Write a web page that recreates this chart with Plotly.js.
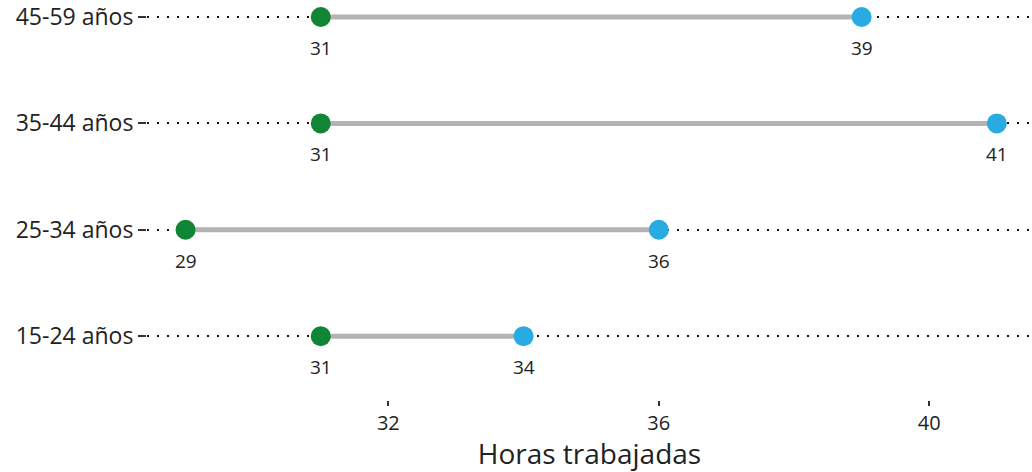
<!DOCTYPE html>
<html>
<head>
<meta charset="utf-8">
<script src="https://cdn.plot.ly/plotly-3.0.1.min.js"></script>
<style>html,body{margin:0;padding:0;background:#fff;}#chart{width:1032px;height:472px;}</style>
</head>
<body>
<div id="chart"></div>
<script>
const categories = ["15-24 años", "25-34 años", "35-44 años", "45-59 años"];
const startHours = [31, 29, 31, 31];
const endHours = [34, 36, 41, 39];
const xTicks = [32, 36, 40];

const segX = [], segY = [];
categories.forEach((c, i) => { segX.push(startHours[i], endHours[i], null); segY.push(c, c, null); });

const font = "Open Sans, Noto Sans, sans-serif";
const traces = [
  {x: segX, y: segY, mode: "lines", line: {color: "#b3b3b3", width: 5}, hoverinfo: "skip", showlegend: false},
  {x: startHours, y: categories, mode: "markers", marker: {color: "#108535", size: 20}, showlegend: false},
  {x: endHours, y: categories, mode: "markers", marker: {color: "#29abe2", size: 20}, showlegend: false}
];

const annotations = [];
categories.forEach((c, i) => {
  [startHours[i], endHours[i]].forEach(v => annotations.push({
    x: v, y: c, text: String(v), showarrow: false, yshift: -31,
    font: {family: font, size: 19, color: "#222"}
  }));
});

const layout = {
  width: 1032, height: 472,
  margin: {l: 147, r: 0, t: 0, b: 72},
  paper_bgcolor: "#fff", plot_bgcolor: "#fff",
  font: {family: font, color: "#222"},
  showlegend: false,
  annotations: annotations,
  xaxis: {
    range: [28.43, 41.52], tickvals: xTicks, ticktext: xTicks.map(String),
    showgrid: false, zeroline: false, showline: false,
    ticks: "outside", ticklen: 5, tickwidth: 2, tickcolor: "#333",
    tickfont: {family: font, size: 20, color: "#222"},
    title: {text: "Horas trabajadas", font: {family: font, size: 28, color: "#222"}, standoff: 5}
  },
  yaxis: {
    type: "category", categoryorder: "array", categoryarray: categories,
    range: [-0.6, 3.16],
    showgrid: true, gridcolor: "#111", gridwidth: 2, griddash: "2px,8px",
    zeroline: false, showline: false,
    ticks: "outside", ticklen: 8, tickwidth: 2, tickcolor: "#333",
    tickfont: {family: font, size: 23, color: "#222"}
  }
};

Plotly.newPlot("chart", traces, layout, {displayModeBar: false, staticPlot: true});
</script>
</body>
</html>
